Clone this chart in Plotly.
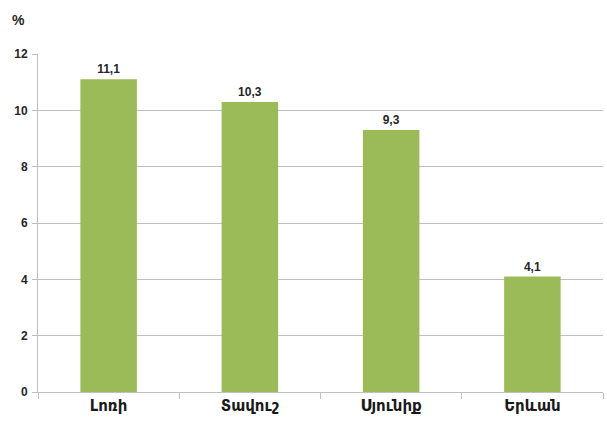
import plotly.graph_objects as go

regions = ["Լոռի", "Տավուշ", "Սյունիք", "Երևան"]
values = [11.1, 10.3, 9.3, 4.1]
value_labels = ["11,1", "10,3", "9,3", "4,1"]
y_ticks = [0, 2, 4, 6, 8, 10, 12]

font_family = "Liberation Sans, Arial, Noto Sans, DejaVu Sans, sans-serif"

fig = go.Figure(
    go.Bar(
        x=regions,
        y=values,
        text=value_labels,
        texttemplate="<b>%{text}</b>",
        textposition="outside",
        textfont=dict(family=font_family, size=12, color="#262626"),
        marker=dict(color="#9BBB59", line=dict(width=0)),
        width=0.4,
        cliponaxis=False,
    )
)

fig.update_layout(
    width=607,
    height=427,
    margin=dict(l=38, r=4, t=54, b=35),
    paper_bgcolor="white",
    plot_bgcolor="white",
    showlegend=False,
    font=dict(family=font_family, color="#262626"),
)

fig.update_xaxes(
    type="category",
    tickvals=regions,
    ticktext=[f"<b>{r}</b>" for r in regions],
    showline=True,
    linecolor="#BFBFBF",
    linewidth=1,
    ticks="outside",
    tickson="boundaries",
    ticklen=6,
    tickcolor="#BFBFBF",
    tickfont=dict(size=15, family=font_family, color="#1a1a1a"),
    showgrid=False,
)

fig.update_yaxes(
    range=[0, 12],
    tickvals=y_ticks,
    ticktext=[f"<b>{v}</b>" for v in y_ticks],
    showline=True,
    linecolor="#BFBFBF",
    linewidth=1,
    ticks="outside",
    ticklen=5,
    tickcolor="#BFBFBF",
    showgrid=True,
    gridcolor="#BFBFBF",
    gridwidth=1,
    zeroline=False,
    ticklabelstandoff=2,
    tickfont=dict(size=12, family=font_family, color="#262626"),
)

fig.add_annotation(
    text="<b>%</b>",
    xref="paper", yref="paper",
    x=-0.05, y=1.0,
    xanchor="left", yanchor="bottom",
    yshift=24,
    showarrow=False,
    font=dict(size=14, family=font_family, color="#262626"),
)

fig.write_html("out.html")
